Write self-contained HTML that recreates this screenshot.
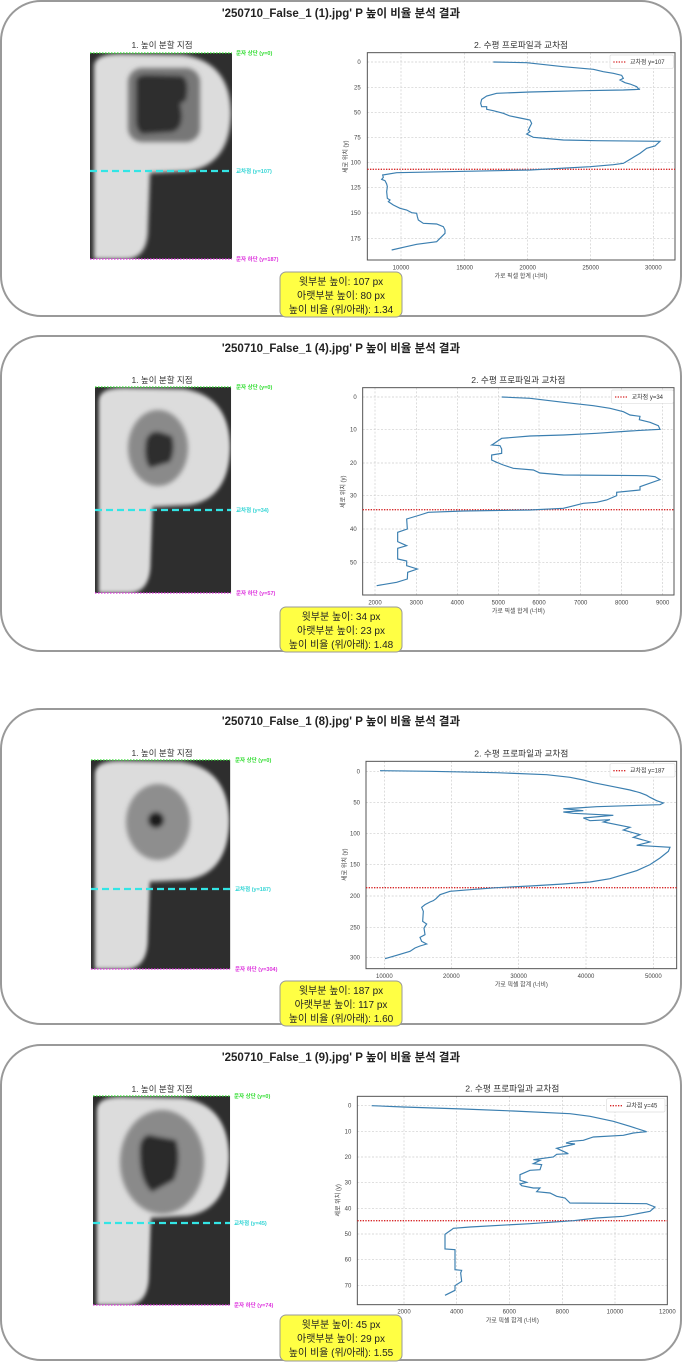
<!DOCTYPE html>
<html><head><meta charset="utf-8"><style>
html,body{margin:0;padding:0;background:#fff;}
svg{display:block;font-family:"Liberation Sans","Noto Sans CJK KR",sans-serif;}
</style></head><body>
<svg width="682" height="1363" viewBox="0 0 682 1363" xmlns="http://www.w3.org/2000/svg">
<defs>
<filter id="bl" x="-5%" y="-5%" width="110%" height="110%"><feGaussianBlur stdDeviation="2"/></filter>
<filter id="bl2" x="-20%" y="-20%" width="140%" height="140%"><feGaussianBlur stdDeviation="2.5"/></filter>
<clipPath id="pc"><rect x="0" y="0" width="142" height="206"/></clipPath>
<g id="pshape">
  <rect x="0" y="0" width="142" height="206" fill="#2e2e2e"/>
  <g clip-path="url(#pc)" filter="url(#bl)">
    <path d="M4,14 Q4,1 30,1 L92,2 Q140,8 141,60 Q140,112 98,118 L60,120 L58,175 Q58,206 35,206 L4,206 Z" fill="#dcdcdc"/>
  </g>
</g>
</defs>

<rect x="1" y="1" width="680" height="315" rx="40" fill="none" stroke="#999" stroke-width="2"/>
<rect x="1" y="336" width="680" height="315" rx="40" fill="none" stroke="#999" stroke-width="2"/>
<rect x="1" y="709" width="680" height="315" rx="40" fill="none" stroke="#999" stroke-width="2"/>
<rect x="1" y="1045" width="680" height="315" rx="40" fill="none" stroke="#999" stroke-width="2"/>

<g font-size="11.5" font-weight="bold" text-anchor="middle" fill="#222">
<text x="341" y="17">'250710_False_1 (1).jpg' P 높이 비율 분석 결과</text>
<text x="341" y="352">'250710_False_1 (4).jpg' P 높이 비율 분석 결과</text>
<text x="341" y="725">'250710_False_1 (8).jpg' P 높이 비율 분석 결과</text>
<text x="341" y="1061">'250710_False_1 (9).jpg' P 높이 비율 분석 결과</text>
</g>

<g font-size="8.5" text-anchor="middle" fill="#333">
<text x="162" y="48">1. 높이 분할 지점</text>
<text x="162" y="383">1. 높이 분할 지점</text>
<text x="162" y="756">1. 높이 분할 지점</text>
<text x="162" y="1092">1. 높이 분할 지점</text>
</g>

<!-- P1 -->
<use href="#pshape" transform="translate(90,53) scale(1,1)"/>
<g filter="url(#bl2)">
<rect x="128" y="68" width="72" height="74" rx="14" fill="#777"/>
<path d="M136,80 Q138,74 150,75 L182,76 Q190,80 186,100 L180,104 Q186,128 172,132 L142,134 Q136,130 136,120 Z" fill="#2e2e2e"/>
</g>
<line x1="90" y1="53" x2="232" y2="53" stroke="#33dd33" stroke-width="1.2" stroke-dasharray="1.5,1.5"/>
<line x1="90" y1="171" x2="232" y2="171" stroke="#33e5e5" stroke-width="2.2" stroke-dasharray="7,4"/>
<line x1="90" y1="259" x2="232" y2="259" stroke="#dd33dd" stroke-width="1.2" stroke-dasharray="1.5,1.5"/>
<g font-size="5.5" font-weight="bold">
<text x="236" y="55" fill="#33dd33">문자 상단 (y=0)</text>
<text x="236" y="173" fill="#33d5d5">교차점 (y=107)</text>
<text x="236" y="261" fill="#dd33dd">문자 하단 (y=187)</text>
</g>

<!-- P2 -->
<use href="#pshape" transform="translate(95,387) scale(0.958,1)"/>
<g filter="url(#bl2)">
<ellipse cx="158" cy="448" rx="30" ry="38" fill="#8a8a8a"/>
<path d="M146,440 Q150,430 160,432 L172,436 Q176,450 170,462 L150,468 Q143,460 146,440 Z" fill="#2e2e2e"/>
</g>
<line x1="95" y1="387" x2="231" y2="387" stroke="#33dd33" stroke-width="1.2" stroke-dasharray="1.5,1.5"/>
<line x1="95" y1="510" x2="231" y2="510" stroke="#33e5e5" stroke-width="2.2" stroke-dasharray="7,4"/>
<line x1="95" y1="593" x2="231" y2="593" stroke="#dd33dd" stroke-width="1.2" stroke-dasharray="1.5,1.5"/>
<g font-size="5.5" font-weight="bold">
<text x="236" y="389" fill="#33dd33">문자 상단 (y=0)</text>
<text x="236" y="512" fill="#33d5d5">교차점 (y=34)</text>
<text x="236" y="595" fill="#dd33dd">문자 하단 (y=57)</text>
</g>

<!-- P3 -->
<use href="#pshape" transform="translate(91,760) scale(0.98,1.015)"/>
<g filter="url(#bl2)">
<ellipse cx="158" cy="822" rx="32" ry="38" fill="#8e8e8e"/>
<circle cx="156" cy="820" r="8" fill="#1e1e1e"/>
</g>
<line x1="91" y1="760" x2="230" y2="760" stroke="#33dd33" stroke-width="1.2" stroke-dasharray="1.5,1.5"/>
<line x1="91" y1="889" x2="230" y2="889" stroke="#33e5e5" stroke-width="2.2" stroke-dasharray="7,4"/>
<line x1="91" y1="969" x2="230" y2="969" stroke="#dd33dd" stroke-width="1.2" stroke-dasharray="1.5,1.5"/>
<g font-size="5.5" font-weight="bold">
<text x="235" y="762" fill="#33dd33">문자 상단 (y=0)</text>
<text x="235" y="891" fill="#33d5d5">교차점 (y=187)</text>
<text x="235" y="971" fill="#dd33dd">문자 하단 (y=304)</text>
</g>

<!-- P4 -->
<use href="#pshape" transform="translate(93,1096) scale(0.965,1.015)"/>
<g filter="url(#bl2)">
<ellipse cx="162" cy="1162" rx="42" ry="52" fill="#8a8a8a"/>
<path d="M140,1145 Q144,1132 154,1136 L176,1140 Q182,1160 174,1180 L152,1192 Q138,1180 140,1145 Z" fill="#2a2a2a"/>
</g>
<line x1="93" y1="1096" x2="230" y2="1096" stroke="#33dd33" stroke-width="1.2" stroke-dasharray="1.5,1.5"/>
<line x1="93" y1="1223" x2="230" y2="1223" stroke="#33e5e5" stroke-width="2.2" stroke-dasharray="7,4"/>
<line x1="93" y1="1305" x2="230" y2="1305" stroke="#dd33dd" stroke-width="1.2" stroke-dasharray="1.5,1.5"/>
<g font-size="5.5" font-weight="bold">
<text x="234" y="1098" fill="#33dd33">문자 상단 (y=0)</text>
<text x="234" y="1225" fill="#33d5d5">교차점 (y=45)</text>
<text x="234" y="1307" fill="#dd33dd">문자 하단 (y=74)</text>
</g>

<!-- CHART 1 -->
<g transform="translate(330,40) scale(0.33333)">
  <text x="573" y="24" font-size="26" text-anchor="middle" fill="#333">2. 수평 프로파일과 교차점</text>
  <g stroke="#ccc" stroke-width="2" stroke-dasharray="6,5">
    <line x1="213" y1="38" x2="213" y2="660"/><line x1="404" y1="38" x2="404" y2="660"/><line x1="593" y1="38" x2="593" y2="660"/><line x1="782" y1="38" x2="782" y2="660"/><line x1="970" y1="38" x2="970" y2="660"/>
    <line x1="112" y1="66" x2="1035" y2="66"/><line x1="112" y1="142" x2="1035" y2="142"/><line x1="112" y1="217" x2="1035" y2="217"/><line x1="112" y1="292" x2="1035" y2="292"/><line x1="112" y1="368" x2="1035" y2="368"/><line x1="112" y1="443" x2="1035" y2="443"/><line x1="112" y1="519" x2="1035" y2="519"/><line x1="112" y1="595" x2="1035" y2="595"/>
  </g>
  <rect x="112" y="38" width="923" height="622" fill="none" stroke="#555" stroke-width="3"/>
  <g font-size="18" fill="#444" text-anchor="end">
    <text x="92" y="72">0</text><text x="92" y="148">25</text><text x="92" y="223">50</text><text x="92" y="298">75</text><text x="92" y="374">100</text><text x="92" y="449">125</text><text x="92" y="525">150</text><text x="92" y="601">175</text>
  </g>
  <g font-size="18" fill="#444" text-anchor="middle">
    <text x="213" y="688">10000</text><text x="404" y="688">15000</text><text x="593" y="688">20000</text><text x="782" y="688">25000</text><text x="970" y="688">30000</text>
    <text x="573" y="714">가로 픽셀 합계 (너비)</text>
    <text transform="translate(52,350) rotate(-90)">세로 위치 (y)</text>
  </g>
  <line x1="112" y1="388" x2="1035" y2="388" stroke="#d62728" stroke-width="4" stroke-dasharray="4,4"/>
  <polyline fill="none" stroke="#3b7fb0" stroke-width="3.5" points="490,66 590,68 700,80 790,88 820,95 850,100 875,106 880,115 870,120 885,128 900,132 920,140 925,146 930,148 880,150 760,152 600,156 500,160 470,168 455,178 452,190 455,200 470,200 470,208 490,212 520,220 540,228 570,234 600,240 605,250 600,260 595,270 600,275 590,282 610,292 700,300 800,302 990,304 975,318 950,325 930,340 905,355 880,370 850,374 780,380 600,390 350,395 200,398 158,405 160,412 155,418 165,422 170,432 172,440 170,455 172,475 180,480 175,485 190,495 210,505 230,510 245,518 260,520 262,530 265,540 280,550 320,552 340,560 345,570 345,580 330,595 320,605 260,613 220,622 185,630"/>
  <rect x="840" y="45" width="190" height="40" fill="#fff" stroke="#ddd" stroke-width="2" rx="4"/>
  <line x1="850" y1="66" x2="888" y2="66" stroke="#d62728" stroke-width="4" stroke-dasharray="4,4"/>
  <text x="900" y="72" font-size="18" fill="#333">교차점 y=107</text>
</g>

<!-- CHART 2 -->
<g transform="translate(330,375) scale(0.33333)">
  <text x="565" y="24" font-size="26" text-anchor="middle" fill="#333">2. 수평 프로파일과 교차점</text>
  <g stroke="#ccc" stroke-width="2" stroke-dasharray="6,5">
    <line x1="135" y1="38" x2="135" y2="660"/><line x1="259" y1="38" x2="259" y2="660"/><line x1="382" y1="38" x2="382" y2="660"/><line x1="505" y1="38" x2="505" y2="660"/><line x1="627" y1="38" x2="627" y2="660"/><line x1="752" y1="38" x2="752" y2="660"/><line x1="875" y1="38" x2="875" y2="660"/><line x1="998" y1="38" x2="998" y2="660"/>
    <line x1="98" y1="66" x2="1032" y2="66"/><line x1="98" y1="163" x2="1032" y2="163"/><line x1="98" y1="264" x2="1032" y2="264"/><line x1="98" y1="362" x2="1032" y2="362"/><line x1="98" y1="462" x2="1032" y2="462"/><line x1="98" y1="562" x2="1032" y2="562"/>
  </g>
  <rect x="98" y="38" width="934" height="622" fill="none" stroke="#555" stroke-width="3"/>
  <g font-size="18" fill="#444" text-anchor="end">
    <text x="80" y="72">0</text><text x="80" y="169">10</text><text x="80" y="270">20</text><text x="80" y="368">30</text><text x="80" y="468">40</text><text x="80" y="568">50</text>
  </g>
  <g font-size="18" fill="#444" text-anchor="middle">
    <text x="135" y="688">2000</text><text x="259" y="688">3000</text><text x="382" y="688">4000</text><text x="505" y="688">5000</text><text x="627" y="688">6000</text><text x="752" y="688">7000</text><text x="875" y="688">8000</text><text x="998" y="688">9000</text>
    <text x="565" y="714">가로 픽셀 합계 (너비)</text>
    <text transform="translate(45,350) rotate(-90)">세로 위치 (y)</text>
  </g>
  <line x1="98" y1="404" x2="1032" y2="404" stroke="#d62728" stroke-width="4" stroke-dasharray="4,4"/>
  <polyline fill="none" stroke="#3b7fb0" stroke-width="3.5" points="515,66 600,70 700,82 790,92 840,100 880,110 900,120 930,124 928,134 960,142 985,152 990,163 900,168 800,175 700,180 600,183 515,190 490,207 485,210 510,212 515,222 515,235 485,240 485,255 500,262 520,270 550,280 610,285 630,294 700,300 950,302 975,305 990,314 930,335 930,345 860,352 860,362 830,375 800,382 760,385 720,395 700,400 600,405 400,408 295,412 270,420 230,432 232,462 203,472 203,500 230,512 203,520 203,552 230,558 230,572 262,582 233,592 232,612 200,622 140,632"/>
  <rect x="845" y="45" width="185" height="40" fill="#fff" stroke="#ddd" stroke-width="2" rx="4"/>
  <line x1="855" y1="66" x2="893" y2="66" stroke="#d62728" stroke-width="4" stroke-dasharray="4,4"/>
  <text x="905" y="72" font-size="18" fill="#333">교차점 y=34</text>
</g>

<!-- CHART 3 -->
<g transform="translate(330,748) scale(0.33333)">
  <text x="574" y="26" font-size="26" text-anchor="middle" fill="#333">2. 수평 프로파일과 교차점</text>
  <g stroke="#ccc" stroke-width="2" stroke-dasharray="6,5">
    <line x1="163" y1="40" x2="163" y2="662"/><line x1="364" y1="40" x2="364" y2="662"/><line x1="566" y1="40" x2="566" y2="662"/><line x1="768" y1="40" x2="768" y2="662"/><line x1="970" y1="40" x2="970" y2="662"/>
    <line x1="108" y1="70" x2="1040" y2="70"/><line x1="108" y1="163" x2="1040" y2="163"/><line x1="108" y1="256" x2="1040" y2="256"/><line x1="108" y1="350" x2="1040" y2="350"/><line x1="108" y1="444" x2="1040" y2="444"/><line x1="108" y1="538" x2="1040" y2="538"/><line x1="108" y1="628" x2="1040" y2="628"/>
  </g>
  <rect x="108" y="40" width="932" height="622" fill="none" stroke="#555" stroke-width="3"/>
  <g font-size="18" fill="#444" text-anchor="end">
    <text x="90" y="76">0</text><text x="90" y="169">50</text><text x="90" y="262">100</text><text x="90" y="356">150</text><text x="90" y="450">200</text><text x="90" y="544">250</text><text x="90" y="634">300</text>
  </g>
  <g font-size="18" fill="#444" text-anchor="middle">
    <text x="163" y="690">10000</text><text x="364" y="690">20000</text><text x="566" y="690">30000</text><text x="768" y="690">40000</text><text x="970" y="690">50000</text>
    <text x="574" y="716">가로 픽셀 합계 (너비)</text>
    <text transform="translate(50,350) rotate(-90)">세로 위치 (y)</text>
  </g>
  <line x1="108" y1="419" x2="1040" y2="419" stroke="#d62728" stroke-width="4" stroke-dasharray="4,4"/>
  <polyline fill="none" stroke="#3b7fb0" stroke-width="3.5" points="150,68 300,70 500,74 650,80 720,88 760,96 790,104 830,112 860,118 900,126 930,134 950,142 960,148 980,158 1000,165 990,170 800,176 740,180 700,182 760,188 700,192 730,196 850,202 760,210 780,218 840,215 820,222 900,238 880,246 930,260 910,268 940,276 960,282 920,292 1020,298 1015,310 990,330 960,350 920,368 880,380 840,392 780,402 700,408 600,414 500,419 420,425 360,430 330,440 318,452 310,458 300,462 285,470 275,478 280,490 278,520 290,528 282,540 285,560 270,568 275,580 290,588 270,594 255,600 240,610 200,622 165,632"/>
  <rect x="840" y="47" width="195" height="40" fill="#fff" stroke="#ddd" stroke-width="2" rx="4"/>
  <line x1="850" y1="68" x2="888" y2="68" stroke="#d62728" stroke-width="4" stroke-dasharray="4,4"/>
  <text x="900" y="74" font-size="18" fill="#333">교차점 y=187</text>
</g>

<!-- CHART 4 -->
<g transform="translate(330,1083) scale(0.33333)">
  <text x="547" y="26" font-size="26" text-anchor="middle" fill="#333">2. 수평 프로파일과 교차점</text>
  <g stroke="#ccc" stroke-width="2" stroke-dasharray="6,5">
    <line x1="222" y1="40" x2="222" y2="665"/><line x1="380" y1="40" x2="380" y2="665"/><line x1="538" y1="40" x2="538" y2="665"/><line x1="697" y1="40" x2="697" y2="665"/><line x1="855" y1="40" x2="855" y2="665"/>
    <line x1="82" y1="68" x2="1012" y2="68"/><line x1="82" y1="145" x2="1012" y2="145"/><line x1="82" y1="222" x2="1012" y2="222"/><line x1="82" y1="299" x2="1012" y2="299"/><line x1="82" y1="376" x2="1012" y2="376"/><line x1="82" y1="453" x2="1012" y2="453"/><line x1="82" y1="530" x2="1012" y2="530"/><line x1="82" y1="607" x2="1012" y2="607"/>
  </g>
  <rect x="82" y="40" width="930" height="625" fill="none" stroke="#555" stroke-width="3"/>
  <g font-size="18" fill="#444" text-anchor="end">
    <text x="64" y="74">0</text><text x="64" y="151">10</text><text x="64" y="228">20</text><text x="64" y="305">30</text><text x="64" y="382">40</text><text x="64" y="459">50</text><text x="64" y="536">60</text><text x="64" y="613">70</text>
  </g>
  <g font-size="18" fill="#444" text-anchor="middle">
    <text x="222" y="692">2000</text><text x="380" y="692">4000</text><text x="538" y="692">6000</text><text x="697" y="692">8000</text><text x="855" y="692">10000</text><text x="1012" y="692">12000</text>
    <text x="547" y="718">가로 픽셀 합계 (너비)</text>
    <text transform="translate(30,352) rotate(-90)">세로 위치 (y)</text>
  </g>
  <line x1="82" y1="413" x2="1012" y2="413" stroke="#d62728" stroke-width="4" stroke-dasharray="4,4"/>
  <polyline fill="none" stroke="#3b7fb0" stroke-width="3.5" points="125,68 220,72 400,78 550,84 720,92 780,100 850,115 900,130 950,146 910,150 880,157 790,162 760,172 725,175 708,180 735,183 680,196 700,205 715,212 680,214 670,222 610,230 630,232 610,242 635,245 630,260 600,262 570,275 570,292 590,298 570,303 575,308 610,315 630,315 620,326 660,330 680,340 705,345 720,360 950,362 975,372 960,385 880,400 800,405 730,413 600,422 420,432 370,436 365,440 345,454 345,498 375,500 375,560 395,562 392,570 395,595 375,608 375,622 345,637"/>
  <rect x="830" y="47" width="175" height="40" fill="#fff" stroke="#ddd" stroke-width="2" rx="4"/>
  <line x1="840" y1="68" x2="878" y2="68" stroke="#d62728" stroke-width="4" stroke-dasharray="4,4"/>
  <text x="888" y="74" font-size="18" fill="#333">교차점 y=45</text>
</g>

<g font-size="10" text-anchor="middle" fill="#222">
  <rect x="280" y="272" width="122" height="45" rx="6" fill="#ffff44" stroke="#999" stroke-width="1"/>
  <text x="341" y="285">윗부분 높이: 107 px</text><text x="341" y="299">아랫부분 높이: 80 px</text><text x="341" y="313">높이 비율 (위/아래): 1.34</text>

  <rect x="280" y="607" width="122" height="45" rx="6" fill="#ffff44" stroke="#999" stroke-width="1"/>
  <text x="341" y="620">윗부분 높이: 34 px</text><text x="341" y="634">아랫부분 높이: 23 px</text><text x="341" y="648">높이 비율 (위/아래): 1.48</text>

  <rect x="280" y="981" width="122" height="45" rx="6" fill="#ffff44" stroke="#999" stroke-width="1"/>
  <text x="341" y="994">윗부분 높이: 187 px</text><text x="341" y="1008">아랫부분 높이: 117 px</text><text x="341" y="1022">높이 비율 (위/아래): 1.60</text>

  <rect x="280" y="1315" width="122" height="46" rx="6" fill="#ffff44" stroke="#999" stroke-width="1"/>
  <text x="341" y="1328">윗부분 높이: 45 px</text><text x="341" y="1342">아랫부분 높이: 29 px</text><text x="341" y="1356">높이 비율 (위/아래): 1.55</text>
</g>
</svg>
</body></html>
